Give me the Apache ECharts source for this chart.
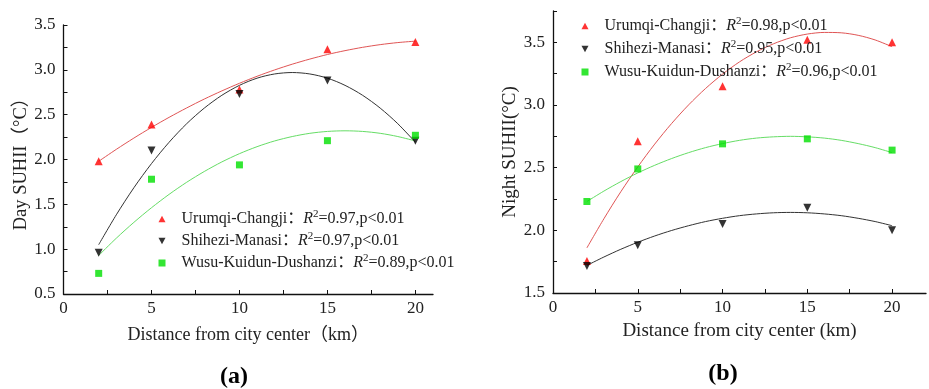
<!DOCTYPE html>
<html><head><meta charset="utf-8">
<script src="https://cdn.jsdelivr.net/npm/echarts@6/dist/echarts.min.js"></script>
<style>html,body{margin:0;padding:0;background:#fff}#c{width:929px;height:389px}</style>
</head><body><div id="c"></div>
<script>
// ---- data ----
const distances = [2, 5, 10, 15, 20];
const regionNames = ['Urumqi-Changji', 'Shihezi-Manasi', 'Wusu-Kuidun-Dushanzi'];
const dayR2 = ['0.97', '0.97', '0.89'];
const nightR2 = ['0.98', '0.95', '0.96'];

const dayUrumqi = [1.98, 2.39, 2.78, 3.23, 3.31];
const dayShihezi = [0.96, 2.10, 2.73, 2.88, 2.21];
const dayWusu = [0.73, 1.78, 1.94, 2.21, 2.27];

const nightUrumqi = [1.755, 2.71, 3.15, 3.52, 3.50];
const nightShihezi = [1.715, 1.88, 2.05, 2.18, 2.00];
const nightWusu = [2.23, 2.49, 2.69, 2.73, 2.64];

// fitted curves (one value per km, 2..20)
const fitX = [2, 3, 4, 5, 6, 7, 8, 9, 10, 11, 12, 13, 14, 15, 16, 17, 18, 19, 20];
const dayUrumqiFit = [1.980, 2.113, 2.239, 2.358, 2.470, 2.575, 2.674, 2.765, 2.850, 2.928, 2.999, 3.063, 3.120, 3.171, 3.214, 3.251, 3.281, 3.304, 3.320];
const dayShiheziFit = [1.050, 1.383, 1.685, 1.954, 2.192, 2.399, 2.573, 2.716, 2.827, 2.907, 2.954, 2.970, 2.954, 2.907, 2.827, 2.716, 2.573, 2.399, 2.192];
const dayWusuFit = [0.930, 1.122, 1.299, 1.462, 1.611, 1.746, 1.866, 1.973, 2.065, 2.143, 2.207, 2.256, 2.292, 2.313, 2.320, 2.313, 2.292, 2.256, 2.207];

const nightUrumqiFit = [1.860, 2.092, 2.308, 2.506, 2.688, 2.853, 3.001, 3.132, 3.246, 3.344, 3.424, 3.488, 3.536, 3.566, 3.579, 3.576, 3.556, 3.519, 3.465];
const nightShiheziFit = [1.720, 1.787, 1.849, 1.905, 1.955, 1.999, 2.037, 2.070, 2.096, 2.117, 2.131, 2.140, 2.143, 2.140, 2.131, 2.117, 2.096, 2.070, 2.037];
const nightWusuFit = [2.230, 2.313, 2.389, 2.458, 2.519, 2.573, 2.620, 2.660, 2.692, 2.718, 2.736, 2.746, 2.750, 2.746, 2.736, 2.718, 2.692, 2.660, 2.620];

const dayXTicks = [0, 5, 10, 15, 20];
const dayYTicks = [0.5, 1.0, 1.5, 2.0, 2.5, 3.0, 3.5];
const nightXTicks = [0, 5, 10, 15, 20];
const nightYTicks = [1.5, 2.0, 2.5, 3.0, 3.5];

// ---- build ----
const zip = (xs, ys) => xs.map((x, i) => [x, ys[i]]);
const FONT = '"Liberation Serif", "Times New Roman", "Noto Sans CJK SC", serif';
const colors = ['#ff0000', '#000000', '#00e000'];
const lineColors = ['#e05555', '#333333', '#66dd66'];
const symbols = ['triangle', 'triangle', 'rect'];
const rotates = [0, 180, 0];
const sizes = [8, 8, 7];
const icons = ['path://M5,0L10,9L0,9Z', 'path://M0,0L10,0L5,9Z', 'path://M0,0L10,0L10,10L0,10Z'];

const dayNames = regionNames.map((n, i) => n + '：R2=' + dayR2[i] + ',p<0.01');
const nightNames = regionNames.map((n, i) => n + '：R2=' + nightR2[i] + ',p<0.01');

function legendFmt(name) {
  const parts = name.split('：R2=');
  return '{a|' + parts[0] + '：}{i|R}{s|2}{a|=' + parts[1] + '}';
}
const rich = {
  a: { fontFamily: FONT, fontSize: 16, color: '#222' },
  i: { fontFamily: FONT, fontSize: 16, fontStyle: 'italic', color: '#222' },
  s: { fontFamily: FONT, fontSize: 11, color: '#222', padding: [0, 0, 9, 0] }
};

function makeXAxis(gridIndex, max, ticks, name, gap, fs) {
  const minor = [];
  for (let v = 0; v <= 20; v += 2.5) minor.push(v);
  return {
    type: 'value', gridIndex, min: 0, max, interval: 5,
    name, nameLocation: 'middle', nameGap: gap,
    nameTextStyle: { fontFamily: FONT, fontSize: fs, color: '#222' },
    axisLine: { show: true, lineStyle: { color: '#111', width: 1.3 } },
    axisTick: { show: true, inside: true, length: 4, customValues: minor, lineStyle: { color: '#111' } },
    axisLabel: { customValues: ticks, margin: 6, fontFamily: FONT, fontSize: 17, color: '#222' },
    splitLine: { show: false }
  };
}
function makeYAxis(gridIndex, min, max, ticks, name, gap, fs) {
  const minor = [];
  for (let v = min; v <= max + 1e-9; v += 0.25) minor.push(+v.toFixed(2));
  return {
    type: 'value', gridIndex, min, max, interval: 0.5,
    name, nameLocation: 'middle', nameGap: gap, nameRotate: 90,
    nameTextStyle: { fontFamily: FONT, fontSize: fs, color: '#222' },
    axisLine: { show: true, lineStyle: { color: '#111', width: 1.3 } },
    axisTick: { show: true, inside: true, length: 4, customValues: minor, lineStyle: { color: '#111' } },
    axisLabel: { customValues: ticks, margin: 8, fontFamily: FONT, fontSize: 17, color: '#222',
      formatter: v => v.toFixed(1) },
    splitLine: { show: false }
  };
}

const series = [];
function addChart(idx, names, pts, fits) {
  fits.forEach((f, i) => series.push({
    type: 'line', xAxisIndex: idx, yAxisIndex: idx, data: zip(fitX, f),
    smooth: 0.3, showSymbol: false, symbol: 'none', silent: true,
    lineStyle: { color: lineColors[i], width: 1 }, z: 2
  }));
  pts.forEach((p, i) => series.push({
    type: 'scatter', name: names[i], xAxisIndex: idx, yAxisIndex: idx, data: zip(distances, p),
    symbol: symbols[i], symbolRotate: rotates[i], symbolSize: sizes[i],
    itemStyle: { color: colors[i] }, z: 3
  }));
}
addChart(0, dayNames, [dayUrumqi, dayShihezi, dayWusu], [dayUrumqiFit, dayShiheziFit, dayWusuFit]);
addChart(1, nightNames, [nightUrumqi, nightShihezi, nightWusu], [nightUrumqiFit, nightShiheziFit, nightWusuFit]);

function makeLegend(names, left, top, gap) {
  return {
    orient: 'vertical', left, top, itemGap: gap, itemWidth: 7, itemHeight: 7,
    selectedMode: false,
    data: names.map((n, i) => ({ name: n, icon: icons[i], itemStyle: { color: colors[i] } })),
    formatter: legendFmt,
    textStyle: { padding: [0, 0, 0, 11], rich }
  };
}

const chart = echarts.init(document.getElementById('c'), null, { renderer: 'canvas' });
chart.setOption({
  backgroundColor: '#fff',
  animation: false,
  grid: [
    { left: 63.5, top: 25, width: 369.5, height: 269 },
    { left: 553, top: 11, width: 373, height: 282 }
  ],
  xAxis: [
    makeXAxis(0, 21, dayXTicks, 'Distance from city center（km）', 32, 18),
    makeXAxis(1, 22, nightXTicks, 'Distance from city center (km)', 29, 19)
  ],
  yAxis: [
    makeYAxis(0, 0.5, 3.5, dayYTicks, 'Day SUHII（°C）', 28, 18.5),
    makeYAxis(1, 1.5, 3.75, nightYTicks, 'Night SUHII(°C)', 29, 19)
  ],
  legend: [makeLegend(dayNames, 153.5, 204, 4), makeLegend(nightNames, 576.5, 11, 5)],
  series,
  graphic: [
    { type: 'text', x: 234, y: 377, style: { text: '(a)', font: 'bold 24px ' + FONT, fill: '#000', align: 'center', verticalAlign: 'middle' } },
    { type: 'text', x: 723, y: 374, style: { text: '(b)', font: 'bold 24px ' + FONT, fill: '#000', align: 'center', verticalAlign: 'middle' } }
  ]
});
</script></body></html>
